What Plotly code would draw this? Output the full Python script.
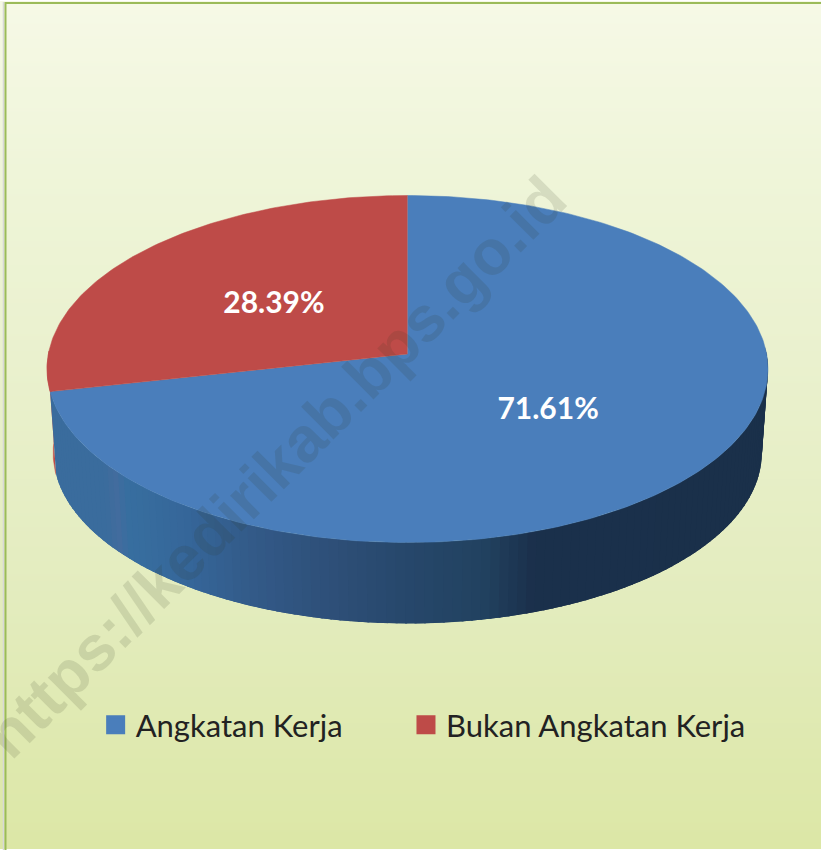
import numpy as np
import plotly.graph_objects as go

categories = ["Angkatan Kerja", "Bukan Angkatan Kerja"]
values = [71.61, 28.39]
slice_colors = ["#4A7EBB", "#BE4B48"]

W, H = 821, 850
CX, APEX_Y, SX, SY, K = 407.5, 354.0, 359.2, 172.3, 0.0836
WALL_SCALE, WALL_APEX_Y = 0.983, 438.1

grad_y = [3, 170, 360, 600, 850]
grad_rgb = [(246, 249, 230), (239, 245, 217), (234, 241, 206), (227, 236, 190), (220, 231, 166)]

wall_x = [50, 100, 112, 122, 180, 250, 330, 400, 480, 530, 770]
wall_rgb = [(58, 109, 158), (58, 108, 157), (67, 108, 158), (56, 111, 160), (54, 103, 154),
            (51, 90, 136), (46, 79, 120), (39, 72, 108), (34, 66, 96), (27, 48, 76), (26, 48, 74)]


def project(theta, r=1.0):
    """Clockwise angle from 12 o'clock on the pie -> tilted, perspective screen position."""
    u, v = r * np.sin(theta), r * np.cos(theta)
    d = 1 + K * v
    return CX + SX * u / d, APEX_Y + 0.5 - SY * v / d


def project_low(theta):
    x, y = project(theta)
    return CX + (x - CX) * WALL_SCALE, WALL_APEX_Y + (y - APEX_Y) * WALL_SCALE


def hexrgb(c):
    return "rgb(%d,%d,%d)" % tuple(int(v) for v in c)


def wall_color(x):
    return hexrgb([np.interp(x, wall_x, [c[i] for c in wall_rgb]) for i in range(3)])


fig = go.Figure()

# Background gradient
ys = np.arange(3, H + 1, 4.0)
zs = np.interp(ys, grad_y, np.arange(len(grad_y)))
scale = [[i / (len(grad_rgb) - 1), hexrgb(c)] for i, c in enumerate(grad_rgb)]
fig.add_trace(go.Heatmap(x=[5, W + 5], y=ys, z=np.column_stack([zs, zs]), colorscale=scale,
                         showscale=False, zsmooth="best", hoverinfo="skip", showlegend=False))

fractions = np.array(values) / sum(values)
a_blue_end = 2 * np.pi * fractions[0]  # blue runs clockwise from 12 o'clock


def poly(xs, ys_, color, lw=0.0):
    fig.add_trace(go.Scatter(x=xs, y=ys_, mode="lines", fill="toself", fillcolor=color,
                             line=dict(color=color, width=lw), hoverinfo="skip", showlegend=False))


# Back sliver of the red slice's wall on the far left
t = np.linspace(a_blue_end, 3 * np.pi / 2 + 0.02, 20)
x1, y1 = project(t)
x2, y2 = project_low(t[::-1])
poly(np.r_[x1, x2], np.r_[y1, y2], slice_colors[1], 0.5)

# Blue wall: strips laid from the left end to the right end, each overlapping the next
edges = np.linspace(a_blue_end, np.pi / 2 - 0.02, 121)
for a, b in zip(edges[:-1], edges[1:]):
    t = np.array([a, b - 0.03])
    x1, y1 = project(t)
    x2, y2 = project_low(t[::-1])
    poly(np.r_[x1, x2], np.r_[y1, y2], wall_color(project(np.array([a]))[0][0]))

# Top faces
t = np.linspace(0, a_blue_end, 260)
x1, y1 = project(t)
poly(np.r_[CX, x1], np.r_[APEX_Y, y1], slice_colors[0], 0.5)
t = np.linspace(a_blue_end, 2 * np.pi, 120)
x1, y1 = project(t)
poly(np.r_[CX, x1], np.r_[APEX_Y, y1], slice_colors[1], 0.5)

# Data labels at the middle of each slice
mids = [a_blue_end / 2, (a_blue_end + 2 * np.pi) / 2]
lx, ly = project(np.array(mids), 0.49)
fig.add_trace(go.Scatter(x=lx, y=ly + 2.5, mode="text", text=["%.2f%%" % v for v in values],
                         textposition="middle center",
                         textfont=dict(family="Lato", size=30, color="white", weight=700),
                         hoverinfo="skip", showlegend=False))

# Legend entries: each has its own legend so the pair sits apart without clipping text
legend_ids = ["legend", "legend2"]
for name, color, lid in zip(categories, slice_colors, legend_ids):
    fig.add_trace(go.Scatter(x=[None], y=[None], mode="markers", name=name, legend=lid,
                             showlegend=True,
                             marker=dict(symbol="square", size=16, color=color,
                                         line=dict(color=color, width=3))))

fig.add_annotation(x=275, y=467, xref="x", yref="y", showarrow=False, textangle=-45,
                   text="<b>https://kedirikab.bps.go.id</b>",
                   font=dict(family="Liberation Sans", size=63.5, color="rgba(50,55,30,0.13)"))

legend_style = dict(yanchor="middle", xanchor="left", y=0.147, bgcolor="rgba(0,0,0,0)",
                    font=dict(family="Lato", size=31, color="#222222"), itemwidth=30)
fig.update_layout(
    width=W, height=H, margin=dict(l=0, r=0, t=0, b=0),
    paper_bgcolor="white", plot_bgcolor="white",
    xaxis=dict(range=[0, W], visible=False, fixedrange=True),
    yaxis=dict(range=[H, 0], visible=False, fixedrange=True),
    legend=dict(x=0.1165, **legend_style),
    legend2=dict(x=0.4945, **legend_style),
    shapes=[
        dict(type="line", x0=3.5, x1=3.5, y0=2, y1=H, line=dict(color="#D8D8D8", width=1.5), layer="above"),
        dict(type="rect", x0=5.5, y0=3, x1=W + 10, y1=H + 10, line=dict(color="#9BBB59", width=2), layer="above"),
    ],
)
fig.write_html("out.html", config={"displayModeBar": False},
               post_script="document.body.style.margin='0';document.body.style.overflow='hidden';window.dispatchEvent(new Event('resize'));")
